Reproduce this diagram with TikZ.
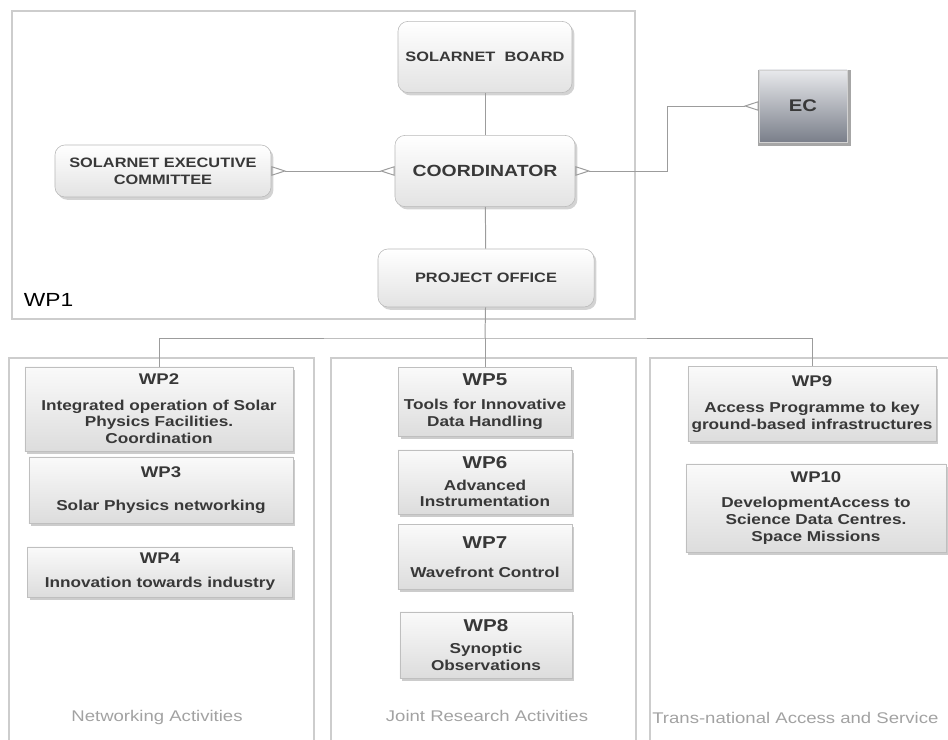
\documentclass[tikz,border=0pt]{standalone}
\usepackage{fontspec}
\setmainfont{Liberation Sans}[FakeStretch=1.2]
\usetikzlibrary{arrows.meta,shadows}

\definecolor{framegray}{HTML}{CDCDCD}
\definecolor{linkgray}{HTML}{9C9C9C}
\definecolor{txtgray}{HTML}{383838}
\definecolor{labelgray}{HTML}{A2A2A2}
\definecolor{ectop}{HTML}{E8E9EC}
\definecolor{ecbot}{HTML}{7A7F8A}

\tikzset{
  foot/.tip={Triangle[open,reversed,length=.38cm,width=.24cm]},
}

\begin{document}
\begin{tikzpicture}[x=.025cm,y=-.025cm,
  frame/.style={draw=framegray, line width=1.1pt},
  link/.style={draw=linkgray, line width=.7pt},
  roundbox/.style={draw=gray!55, rounded corners=.25cm, top color=white,
    bottom color=gray!22, text=txtgray, align=center,
    font=\bfseries\fontsize{9.7}{12}\selectfont,
    drop shadow={shadow xshift=.06cm, shadow yshift=-.07cm, opacity=.35}},
  wpbox/.style={draw=gray!50, top color=gray!4, bottom color=gray!27,
    text=txtgray, align=center, inner sep=0pt,
    font=\bfseries\fontsize{10.2}{12}\selectfont,
    drop shadow={shadow xshift=.06cm, shadow yshift=-.07cm, opacity=.4}},
  colabel/.style={text=labelgray, font=\fontsize{11}{13}\selectfont}
]
\useasboundingbox (0,0) rectangle (948,740);
\clip (0,0) rectangle (948,740);

% WP1 and the three activity columns
\draw[frame] (12,11) rectangle (635,319);
\draw[frame] (9,358) rectangle (314,770);
\draw[frame] (331,358) rectangle (636,770);
\draw[frame] (650,358) rectangle (980,770);

\node[anchor=west, font=\fontsize{13.5}{15}\selectfont] (wp1label) at (19,300) {WP1};

% management
\node[roundbox, minimum width=4.35cm, minimum height=1.78cm] (board) at (485,57)
  {SOLARNET\ \ BOARD};
\node[roundbox, minimum width=4.5cm, minimum height=1.78cm,
  font=\bfseries\fontsize{11.5}{14}\selectfont] (coord) at (485,171) {COORDINATOR};
\node[roundbox, minimum width=5.4cm, minimum height=1.3cm] (exec) at (163,171)
  {SOLARNET EXECUTIVE\\COMMITTEE};
\node[roundbox, minimum width=5.4cm, minimum height=1.45cm] (office) at (486,278)
  {PROJECT OFFICE};
\node[draw=gray!35, top color=ectop, bottom color=ecbot, text=txtgray,
  minimum width=2.2cm, minimum height=1.8cm, font=\bfseries\fontsize{12}{14}\selectfont,
  drop shadow={shadow xshift=.04cm, shadow yshift=-.04cm, opacity=.7, shadow scale=1.06}]
  (ec) at (803,106) {EC};

\draw[link] (board) -- (coord);
\draw[link] (coord) -- (office);
\draw[link, foot-foot] (exec.east) -- (coord.west);
\draw[link, foot-foot] (coord.east) -- ++(92,0) |- (ec.west);

% work packages
\node[wpbox, minimum width=6.7cm, minimum height=2.1cm] (wp2) at (159,409)
  {{\fontsize{11}{13}\selectfont WP2}\\[6pt]Integrated operation of Solar\\Physics Facilities.\\Coordination};
\node[wpbox, minimum width=6.6cm, minimum height=1.65cm] (wp3) at (161,490)
  {{\fontsize{11}{13}\selectfont WP3}\\[12pt]Solar Physics networking};
\node[wpbox, minimum width=6.625cm, minimum height=1.25cm] (wp4) at (160,572)
  {{\fontsize{11}{13}\selectfont WP4}\\[5pt]Innovation towards industry};

\node[wpbox, minimum width=4.325cm, minimum height=1.725cm] (wp5) at (485,402)
  {{\fontsize{12.2}{14}\selectfont WP5}\\[5pt]Tools for Innovative\\Data Handling};
\node[wpbox, minimum width=4.35cm, minimum height=1.6cm] (wp6) at (485,482)
  {{\fontsize{12.2}{14}\selectfont WP6}\\[3pt]Advanced\\Instrumentation};
\node[wpbox, minimum width=4.35cm, minimum height=1.625cm] (wp7) at (485,557)
  {{\fontsize{12.2}{14}\selectfont WP7}\\[9pt]Wavefront Control};
\node[wpbox, minimum width=4.3cm, minimum height=1.65cm] (wp8) at (486,645)
  {{\fontsize{12.2}{14}\selectfont WP8}\\[4pt]Synoptic\\Observations};

\node[wpbox, minimum width=6.2cm, minimum height=1.875cm] (wp9) at (812,404)
  {{\fontsize{11}{13}\selectfont WP9}\\[7pt]Access Programme to key\\ground-based infrastructures};
\node[wpbox, minimum width=6.5cm, minimum height=2.2cm] (wp10) at (816,508)
  {{\fontsize{11}{13}\selectfont WP10}\\[6pt]DevelopmentAccess to\\Science Data Centres.\\Space Missions};

\coordinate (bus) at (485,338);
\draw[link] (office) -- (bus);
\draw[link] (wp2.north) |- (bus) -| (wp9.north);
\draw[link] (bus) -- (wp5.north);

\node[colabel] (netlabel) at (157,718) {Networking Activities};
\node[colabel] (jralabel) at (487,716) {Joint Research Activities};
\node[colabel, anchor=west, inner xsep=0pt] (talabel) at (652,718) {Trans-national Access and Service};

\end{tikzpicture}
\end{document}
